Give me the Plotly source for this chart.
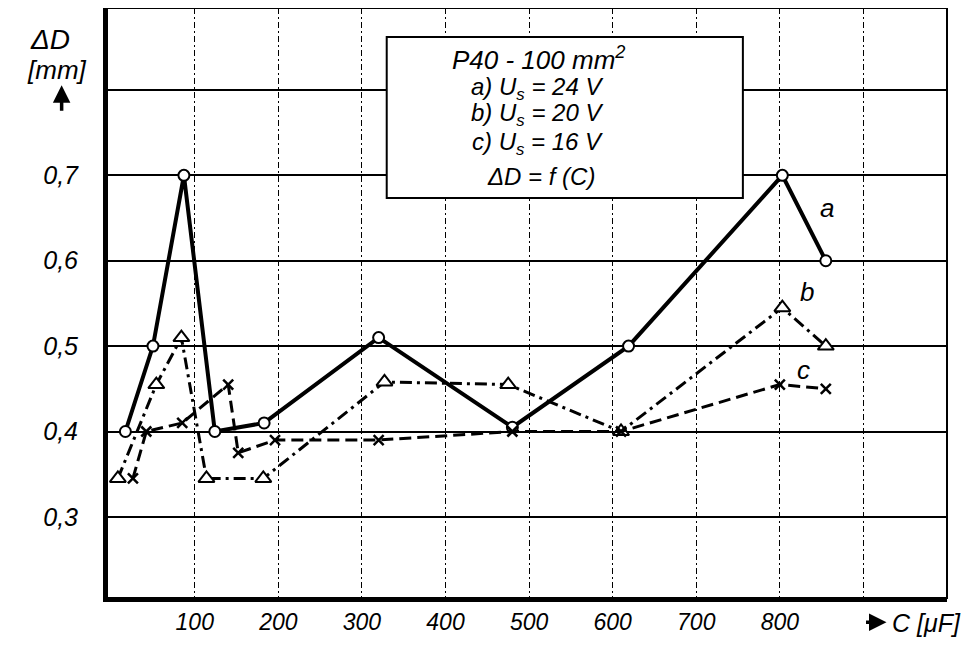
import plotly.graph_objects as go

# capacitance C [uF] and electrode wear dD [mm]
C_a = [17, 50, 87, 124, 183, 320, 480, 619, 803, 855]
D_a = [0.40, 0.50, 0.70, 0.40, 0.41, 0.51, 0.405, 0.50, 0.70, 0.60]

C_b = [8, 54, 84, 114, 182, 327, 475, 610, 803, 855]
D_b = [0.345, 0.455, 0.51, 0.345, 0.345, 0.458, 0.455, 0.40, 0.545, 0.50]

C_c = [26, 42, 85, 140, 152, 196, 320, 480, 610, 800, 855]
D_c = [0.345, 0.40, 0.41, 0.455, 0.375, 0.39, 0.39, 0.40, 0.40, 0.455, 0.45]

x_ticks = [100, 200, 300, 400, 500, 600, 700, 800]
y_ticks = [0.3, 0.4, 0.5, 0.6, 0.7]
y_labels = ['0,3', '0,4', '0,5', '0,6', '0,7']

box_lines = ['P40 - 100 mm<sup>2</sup>',
             'a) U<sub>s</sub> = 24 V',
             'b) U<sub>s</sub> = 20 V',
             'c) U<sub>s</sub> = 16 V',
             '\u0394D = f (C)']

FONT = 'Liberation Sans'
hand = dict(family=FONT, style='italic', color='black')

fig = go.Figure()

# curve a - solid with open circles
fig.add_trace(go.Scatter(x=C_a, y=D_a, mode='lines+markers',
                         line=dict(color='black', width=4),
                         marker=dict(symbol='circle', size=11, color='white',
                                     line=dict(color='black', width=2))))
# curve b - dash-dot with open triangles
fig.add_trace(go.Scatter(x=C_b, y=D_b, mode='lines+markers',
                         line=dict(color='black', width=3, dash='12px,5px,3px,5px'),
                         marker=dict(symbol='triangle-up', size=14, color='white',
                                     line=dict(color='black', width=2))))
# curve c - dashed with crosses
fig.add_trace(go.Scatter(x=C_c, y=D_c, mode='lines+markers',
                         line=dict(color='black', width=3, dash='12px,6px'),
                         marker=dict(symbol='x-thin-open', size=10,
                                     line=dict(color='black', width=2.5))))

# 900 / 0.8 only get a grid line (minor), no number
fig.update_xaxes(range=[-5, 1000], tickvals=x_ticks,
                 ticktext=[str(v) for v in x_ticks],
                 tickfont=dict(hand, size=23), ticks='',
                 showline=True, linecolor='black', linewidth=4,
                 showgrid=True, gridcolor='black', gridwidth=1,
                 griddash='6px,3px,2px,3px', zeroline=False,
                 minor=dict(tickvals=[900], showgrid=True, gridcolor='black', gridwidth=1,
                            griddash='6px,3px,2px,3px', ticks=''))

fig.update_yaxes(range=[0.205, 0.896], tickvals=y_ticks, ticktext=y_labels,
                 tickfont=dict(hand, size=25), ticks='', ticklabelstandoff=20,
                 showline=True, linecolor='black', linewidth=4,
                 showgrid=True, gridcolor='black', gridwidth=1.6, zeroline=False,
                 minor=dict(tickvals=[0.8], showgrid=True, gridcolor='black', gridwidth=1.6,
                            ticks=''))

shapes = [
    # thin frame at top and right
    dict(type='rect', xref='paper', yref='paper', x0=0, x1=1, y0=0, y1=1,
         line=dict(color='black', width=2), layer='above'),
    # description box
    dict(type='rect', xref='paper', yref='paper', x0=0.333, x1=0.757, y0=0.678, y1=0.951,
         line=dict(color='black', width=2), fillcolor='white', layer='above'),
]

box_y = [0.915, 0.864, 0.819, 0.771, 0.714]
box_x = [0.514, 0.512, 0.512, 0.512, 0.517]
box_size = [26, 24, 24, 24, 24]
annotations = []
for txt, xx, yy, sz in zip(box_lines, box_x, box_y, box_size):
    annotations.append(dict(text=txt, xref='paper', yref='paper', x=xx, y=yy,
                            xanchor='center', yanchor='middle',
                            showarrow=False, font=dict(hand, size=sz)))

# curve names
for name, cx, cy in [('a', 857, 0.662), ('b', 832, 0.563), ('c', 828, 0.472)]:
    annotations.append(dict(text=name, x=cx, y=cy, showarrow=False,
                            xanchor='center', yanchor='middle',
                            font=dict(hand, size=26)))

# axis titles
for txt, ax, ay, sz in [('\u0394D', -0.068, 0.946, 28), ('[mm]', -0.06, 0.895, 26)]:
    annotations.append(dict(text=txt, xref='paper', yref='paper', x=ax, y=ay,
                            xanchor='center', yanchor='middle', showarrow=False,
                            font=dict(hand, size=sz)))
# little up arrow under the unit
annotations.append(dict(text='', xref='paper', yref='paper', x=-0.054, y=0.869,
                        ax=0, ay=27, showarrow=True, arrowhead=2, arrowsize=1,
                        arrowwidth=3.5, arrowcolor='black'))
annotations.append(dict(text='C [\u03bcF]', xref='paper', yref='paper',
                        x=1.019, y=-0.042, xanchor='right', yanchor='middle', showarrow=False,
                        font=dict(hand, size=25)))
annotations.append(dict(text='', xref='paper', yref='paper', x=0.928, y=-0.041,
                        ax=-22, ay=0, showarrow=True, arrowhead=2, arrowsize=1,
                        arrowwidth=3.5, arrowcolor='black'))

# page body has an 8px margin, so the figure is a bit smaller than the window
fig.update_layout(width=964, height=647,
                  margin=dict(l=99, r=25, t=0, b=57),
                  paper_bgcolor='white', plot_bgcolor='white',
                  showlegend=False, shapes=shapes, annotations=annotations)

fig.write_html("out.html")
